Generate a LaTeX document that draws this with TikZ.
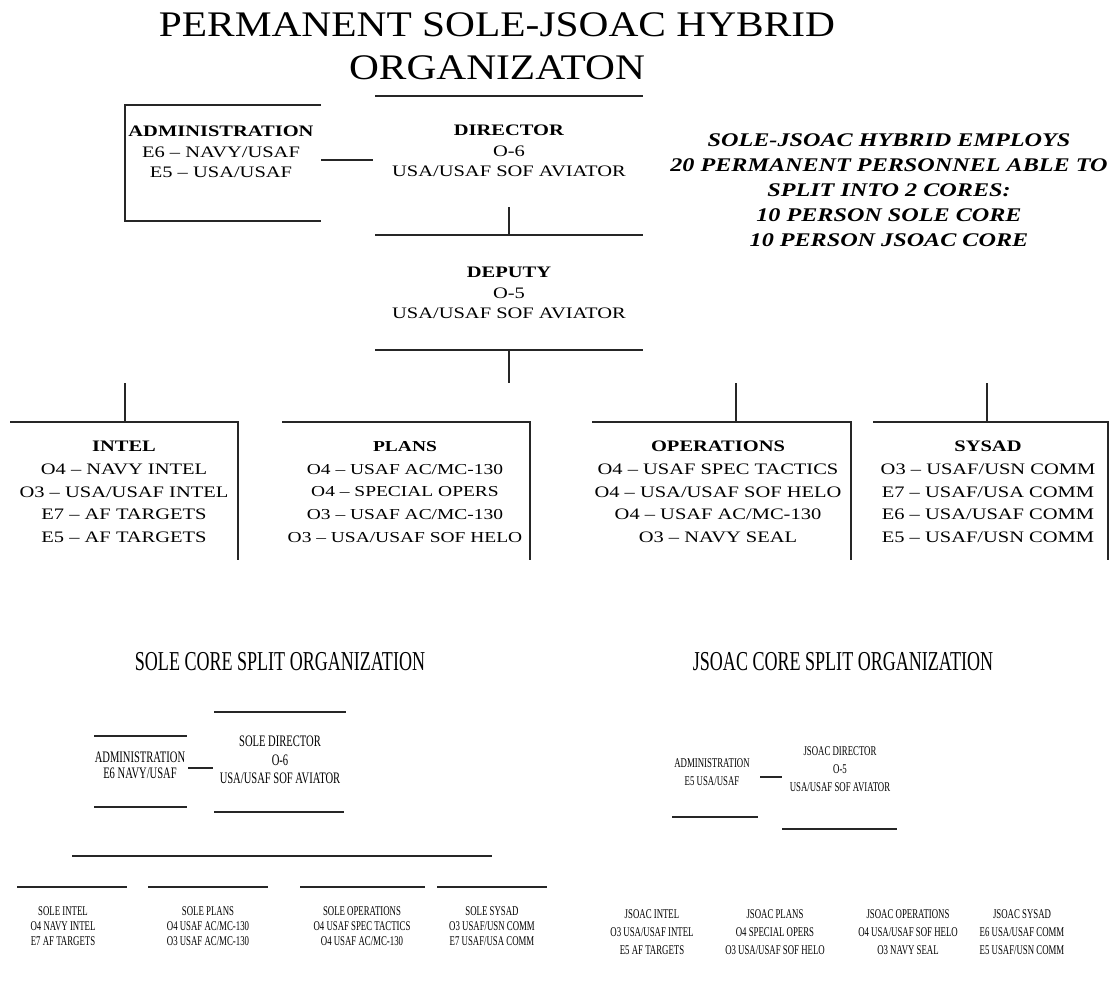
\documentclass[tikz,border=0pt]{standalone}
\usepackage{fontspec}
\setmainfont{Liberation Serif}
\newfontfamily\narrowfont[FakeStretch=0.66]{Liberation Serif}
\newfontfamily\widefont[FakeStretch=1.28]{Liberation Serif}
\newfontfamily\titlefont[FakeStretch=1.15]{Liberation Serif}
\newfontfamily\notefont[FakeStretch=1.25]{Liberation Serif}
\usetikzlibrary{
		calc,
		positioning
	}
\tikzset{
		rule/.style={line width=1.4pt, black!85},
		boxtext/.style={align=center, inner sep=0pt, font=\widefont\fontsize{12}{15.5}\selectfont},
		unittext/.style={align=center, inner sep=0pt, font=\widefont\fontsize{12}{17}\selectfont},
		coretext/.style={align=center, inner sep=0pt, font=\narrowfont\fontsize{10}{13.5}\selectfont},
		coretitle/.style={inner sep=0pt, font=\narrowfont\fontsize{20.5}{24}\selectfont}
	}

\begin{document}
\begin{tikzpicture}[x=0.75pt, y=-0.75pt] % (one unit = one pixel of the 1115x983 sheet)
		\useasboundingbox (0,0) rectangle (1115,983);
		% heading and note
		\node[align=center, inner sep=0pt, font=\titlefont\fontsize{27}{32}\selectfont] (title) at (497,46) {PERMANENT SOLE-JSOAC HYBRID\\ORGANIZATON};
		\node[align=center, inner sep=0pt, font=\notefont\bfseries\itshape\fontsize{14.5}{18.7}\selectfont] (note) at (889,190)
		  {SOLE-JSOAC HYBRID EMPLOYS\\20 PERMANENT PERSONNEL ABLE TO\\SPLIT INTO 2 CORES:\\10 PERSON SOLE CORE\\10 PERSON JSOAC CORE};
		% permanent staff
		\node[boxtext] (admin) at (221,152) {\textbf{ADMINISTRATION}\\E6 – NAVY/USAF\\E5 – USA/USAF};
		\draw[rule] (321,105) -| (125,221) -- (321,221);
		\node[boxtext] (dir) at (509,151) {\textbf{DIRECTOR}\\O-6\\USA/USAF SOF AVIATOR};
		\draw[rule] (375,96) -- (643,96) (375,235) -- (643,235);
		\node[boxtext] (dep) at (509,293) {\textbf{DEPUTY}\\O-5\\USA/USAF SOF AVIATOR};
		\draw[rule] (375,350) -- (643,350);
		\coordinate (admin-e) at (321,160); \coordinate (dir-w) at (373,160);
		\coordinate (dir-s) at (509,207);   \coordinate (dep-n) at (509,235);
		\coordinate (dep-s) at (509,350);   \coordinate (dep-stub) at (509,383);
		\draw[rule] (admin-e) -- (dir-w);
		\draw[rule] (dir-s) -- (dep-n);
		\draw[rule] (dep-s) -- (dep-stub);
		% branches
		\foreach \l/\r in {10/238, 282/530, 592/851, 873/1108}
		  \draw[rule] (\l,422) -| (\r,560);
		\node[unittext] (intel) at (124,492) {\textbf{INTEL}\\O4 – NAVY INTEL\\O3 – USA/USAF INTEL\\E7 – AF TARGETS\\E5 – AF TARGETS};
		\node[unittext, font=\widefont\fontsize{11.4}{17}\selectfont] (plans) at (405,492) {\textbf{PLANS}\\O4 – USAF AC/MC-130\\O4 – SPECIAL OPERS\\O3 – USAF AC/MC-130\\O3 – USA/USAF SOF HELO};
		\node[unittext] (ops) at (718,492) {\textbf{OPERATIONS}\\O4 – USAF SPEC TACTICS\\O4 – USA/USAF SOF HELO\\O4 – USAF AC/MC-130\\O3 – NAVY SEAL};
		\node[unittext] (sysad) at (988,492) {\textbf{SYSAD}\\O3 – USAF/USN COMM\\E7 – USAF/USA COMM\\E6 – USA/USAF COMM\\E5 – USAF/USN COMM};
		\foreach \nm/\x in {intel/125, ops/736, sysad/987}{
		  \coordinate (\nm-stub) at (\x,383);
		  \coordinate (\nm-n) at (\x,422);
		  \draw[rule] (\nm-stub) -- (\nm-n);
		}
		% sole core
		\node[coretitle] (soletitle) at (280,662) {SOLE CORE SPLIT ORGANIZATION};
		\node[coretext, font=\narrowfont\fontsize{12}{12}\selectfont] (soleadmin) at (140,765) {ADMINISTRATION\\E6 NAVY/USAF};
		\draw[rule] (94,736) -- (187,736) (94,807) -- (187,807);
		\node[coretext, font=\narrowfont\fontsize{12}{14}\selectfont] (soledir) at (280,760) {SOLE DIRECTOR\\O-6\\USA/USAF SOF AVIATOR};
		\draw[rule] (214,712) -- (346,712) (214,812) -- (344,812);
		\coordinate (soleadmin-e) at (188,768); \coordinate (soledir-w) at (213,768);
		\draw[rule] (soleadmin-e) -- (soledir-w);
		\draw[rule] (72,856) -- (492,856);
		\foreach \l/\r in {17/127, 148/268, 300/425, 437/547}
		  \draw[rule] (\l,887) -- (\r,887);
		\node[coretext, font=\narrowfont\fontsize{10}{11.5}\selectfont] (soleintel) at (63,926) {SOLE INTEL\\O4 NAVY INTEL\\E7 AF TARGETS};
		\node[coretext, font=\narrowfont\fontsize{10}{11.5}\selectfont] (soleplans) at (208,926) {SOLE PLANS\\O4 USAF AC/MC-130\\O3 USAF AC/MC-130};
		\node[coretext, font=\narrowfont\fontsize{10}{11.5}\selectfont] (soleops) at (362,926) {SOLE OPERATIONS\\O4 USAF SPEC TACTICS\\O4 USAF AC/MC-130};
		\node[coretext, font=\narrowfont\fontsize{10}{11.5}\selectfont] (solesysad) at (492,926) {SOLE SYSAD\\O3 USAF/USN COMM\\E7 USAF/USA COMM};
		% jsoac core
		\node[coretitle] (jsoactitle) at (843,662) {JSOAC CORE SPLIT ORGANIZATION};
		\node[coretext] (jsoacadmin) at (712,772) {ADMINISTRATION\\E5 USA/USAF};
		\draw[rule] (672,817) -- (758,817);
		\node[coretext] (jsoacdir) at (840,769) {JSOAC DIRECTOR\\O-5\\USA/USAF SOF AVIATOR};
		\draw[rule] (782,829) -- (897,829);
		\coordinate (jsoacadmin-e) at (760,777); \coordinate (jsoacdir-w) at (782,777);
		\draw[rule] (jsoacadmin-e) -- (jsoacdir-w);
		\node[coretext] (jsoacintel) at (652,932) {JSOAC INTEL\\O3 USA/USAF INTEL\\E5 AF TARGETS};
		\node[coretext] (jsoacplans) at (775,932) {JSOAC PLANS\\O4 SPECIAL OPERS\\O3 USA/USAF SOF HELO};
		\node[coretext] (jsoacops) at (908,932) {JSOAC OPERATIONS\\O4 USA/USAF SOF HELO\\O3 NAVY SEAL};
		\node[coretext] (jsoacsysad) at (1022,932) {JSOAC SYSAD\\E6 USA/USAF COMM\\E5 USAF/USN COMM};
	\end{tikzpicture}
\end{document}
